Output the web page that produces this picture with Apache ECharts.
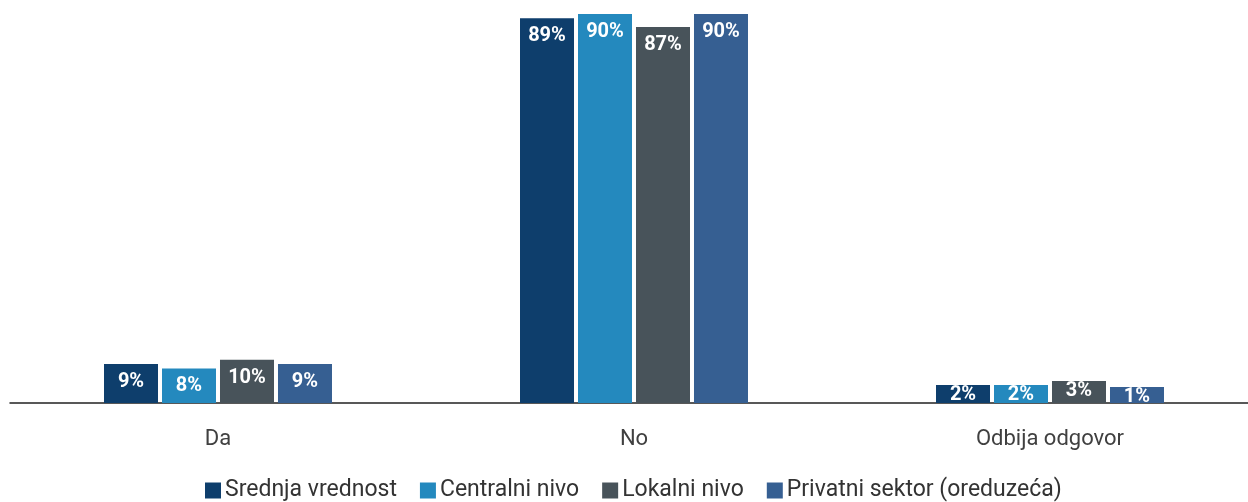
<!DOCTYPE html>
<html>
<head>
<meta charset="utf-8">
<script src="https://cdn.jsdelivr.net/npm/echarts@6/dist/echarts.min.js"></script>
<style>
html,body{margin:0;padding:0;background:#fff;overflow:hidden;width:1248px;height:502px;}
#chart{width:1258px;height:502px;}
</style>
</head>
<body>
<div id="chart"></div>
<script>
const categories = ['Da', 'No', 'Odbija odgovor'];
const seriesNames = ['Srednja vrednost', 'Centralni nivo', 'Lokalni nivo', 'Privatni sektor (oreduzeća)'];
const srednja = [9, 89, 2];
const centralni = [8, 90, 2];
const lokalni = [10, 87, 3];
const privatni = [9, 90, 1];

const colors = ['#0e3e6c', '#2489be', '#48535a', '#365f92'];
const minHeights = [18, 18, 22, 16];
const values = [srednja, centralni, lokalni, privatni];

const chart = echarts.init(document.getElementById('chart'));
const series = values.map((vals, i) => ({
  name: seriesNames[i],
  type: 'bar',
  barWidth: 54,
  barGap: '7.4%',
  barMinHeight: minHeights[i],
  itemStyle: { color: colors[i] },
  label: {
    show: true,
    position: 'insideTop',
    distance: 8,
    color: '#fff',
    fontFamily: 'Roboto',
    fontWeight: 'bold',
    fontSize: 20,
    formatter: p => p.value + '%'
  },
  data: vals.map(v => v < 5 ? { value: v, label: { distance: 0 } } : v)
}));

chart.setOption({
  animation: false,
  grid: { left: 10, right: 0, top: 14, bottom: 99, containLabel: false },
  legend: {
    data: seriesNames,
    top: 474,
    left: 200,
    itemWidth: 16,
    itemHeight: 16,
    itemGap: 23,
    icon: 'rect',
    textStyle: { fontFamily: 'Roboto', fontSize: 23, color: '#333', padding: [0, 0, 0, -1] }
  },
  xAxis: {
    type: 'category',
    data: categories,
    axisTick: { show: false },
    axisLine: { lineStyle: { color: '#222', width: 1.5 } },
    axisLabel: { margin: 25, fontFamily: 'Roboto', fontSize: 22, color: '#404040' }
  },
  yAxis: {
    type: 'value',
    min: 0,
    max: 90,
    show: false,
    splitLine: { show: false }
  },
  series: series
});
</script>
</body>
</html>
